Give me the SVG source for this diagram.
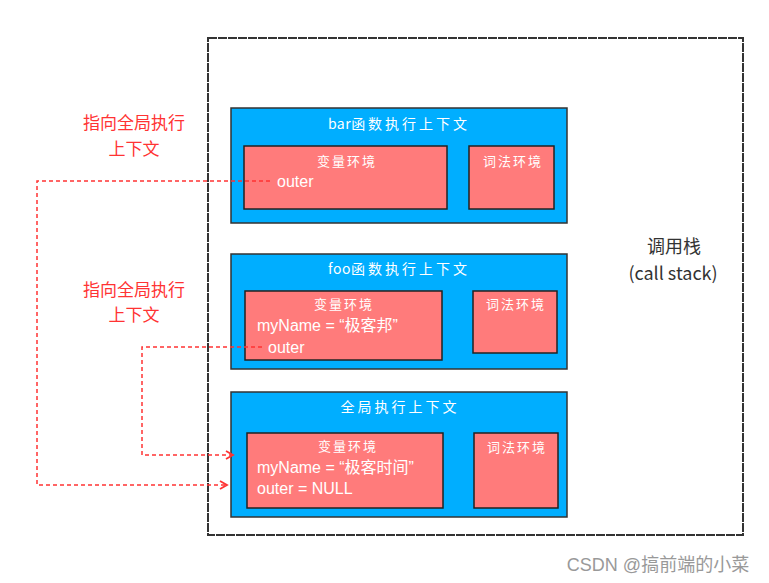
<svg xmlns="http://www.w3.org/2000/svg" width="769" height="583" viewBox="0 0 769 583">
<style>
.ctx{fill:#00AEFF;stroke:#333;stroke-width:1.5}
.env{fill:#FF7B7B;stroke:#222;stroke-width:1.5}
.t{font-family:"Noto Sans CJK SC","Liberation Sans",sans-serif;fill:#fff;font-size:13px;letter-spacing:2px;text-anchor:middle;dominant-baseline:central}
.h{font-size:14px;letter-spacing:3px}
.lat{letter-spacing:0.5px}
.code{font-family:"Liberation Sans","Noto Sans CJK SC",sans-serif;fill:#fff;font-size:16px;dominant-baseline:central}
.red{font-family:"Noto Sans CJK SC",sans-serif;fill:#F33;font-size:17px;text-anchor:middle;dominant-baseline:central}
.gray{font-family:"Noto Sans CJK SC","Liberation Sans",sans-serif;fill:#333;font-size:18px;text-anchor:middle;dominant-baseline:central}
.dash{fill:none;stroke:#F33;stroke-width:1.5;stroke-dasharray:4 3}
</style>
<defs>
<marker id="arr" markerWidth="10" markerHeight="10" refX="8" refY="5" orient="auto" markerUnits="userSpaceOnUse">
<path d="M1,1 L8,5 L1,9" fill="none" stroke="#F33" stroke-width="1.8"/>
</marker>
</defs>
<rect width="769" height="583" fill="#fff"/>
<g id="callstack">
<rect x="208" y="38" width="535" height="497" fill="none" stroke="#333" stroke-width="2" stroke-dasharray="9 1"/>
<text class="gray" x="674" y="245">调用栈</text>
<text class="gray" x="673" y="272">(call stack)</text>
</g>
<g id="bar">
<rect class="ctx" x="231" y="108" width="336" height="115"/>
<text class="t h" x="399" y="123"><tspan class="lat">bar</tspan>函数执行上下文</text>
<rect class="env" x="244" y="146" width="203" height="63"/>
<text class="t" x="347" y="160">变量环境</text>
<text class="code" x="277" y="181">outer</text>
<rect class="env" x="469" y="146" width="85" height="63"/>
<text class="t" x="513" y="160">词法环境</text>
</g>
<g id="foo">
<rect class="ctx" x="231" y="254" width="336" height="115"/>
<text class="t h" x="399" y="268"><tspan class="lat">foo</tspan>函数执行上下文</text>
<rect class="env" x="245" y="291" width="197" height="69"/>
<text class="t" x="344" y="303">变量环境</text>
<text class="code" x="257" y="325">myName = “极客邦”</text>
<text class="code" x="268" y="347">outer</text>
<rect class="env" x="473" y="291" width="84" height="62"/>
<text class="t" x="516" y="303">词法环境</text>
</g>
<g id="global">
<rect class="ctx" x="231" y="392" width="336" height="125"/>
<text class="t h" x="400" y="406">全局执行上下文</text>
<rect class="env" x="247" y="433" width="196" height="75"/>
<text class="t" x="348" y="445">变量环境</text>
<text class="code" x="257" y="467">myName = “极客时间”</text>
<text class="code" x="257" y="488">outer = NULL</text>
<rect class="env" x="474" y="433" width="84" height="75"/>
<text class="t" x="517" y="446">词法环境</text>
</g>
<g id="labels">
<text class="red" x="134" y="121">指向全局执行</text>
<text class="red" x="134" y="147">上下文</text>
<text class="red" x="134" y="288">指向全局执行</text>
<text class="red" x="134" y="313">上下文</text>
</g>
<g id="connectors">
<path class="dash" d="M270,181 H37 V485 H227" marker-end="url(#arr)"/>
<path class="dash" d="M262,347 H142 V455 H233" marker-end="url(#arr)"/>
</g>
<text x="658" y="565" font-family="'Liberation Sans','Noto Sans CJK SC',sans-serif" font-size="18" fill="#999" text-anchor="middle" dominant-baseline="central">CSDN @搞前端的小菜</text>
</svg>
